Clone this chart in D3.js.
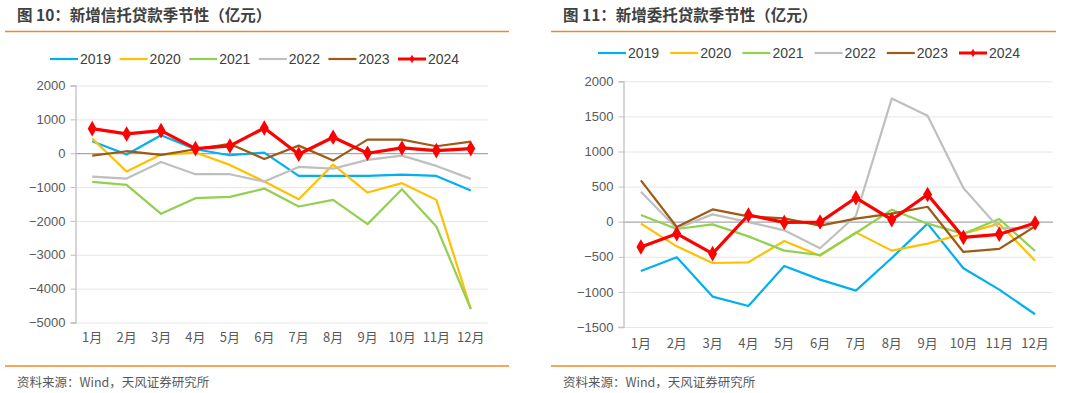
<!DOCTYPE html>
<html>
<head>
<meta charset="utf-8">
<script src="https://cdn.jsdelivr.net/npm/d3@7"></script>
<style>
  body { margin: 0; background: #fff; }
  svg text { font-family: "Noto Sans CJK SC", "Noto Sans", sans-serif; }
</style>
</head>
<body>
<div id="chart"></div>
<script>
// categories
var months = ["1月","2月","3月","4月","5月","6月","7月","8月","9月","10月","11月","12月"];
var years = ["2019","2020","2021","2022","2023","2024"];
var colors = ["#00b0f0","#ffc000","#92d050","#bfbfbf","#9e5a16","#ff0000"];

// 图10 新增信托贷款 (亿元)
var trust2019 = [354, -40, 531, 118, -60, 20, -670, -670, -670, -630, -670, -1100];
var trust2020 = [431, -542, -40, 20, -345, -837, -1357, -336, -1162, -885, -1378, -4600];
var trust2021 = [-847, -935, -1791, -1327, -1289, -1044, -1575, -1378, -2095, -1062, -2165, -4600];
var trust2022 = [-690, -749, -257, -620, -620, -837, -404, -454, -198, -71, -375, -758];
var trust2023 = [-71, 59, -50, 118, 274, -168, 224, -218, 401, 401, 206, 342];
var trust2024 = [726, 570, 667, 136, 215, 746, -30, 472, 0, 156, 77, 136];
var trustTicks = [2000, 1000, 0, -1000, -2000, -3000, -4000, -5000];

// 图11 新增委托贷款 (亿元)
var entrust2019 = [-701, -507, -1067, -1200, -631, -825, -982, -517, -28, -664, -967, -1318];
var entrust2020 = [-28, -351, -588, -578, -275, -484, -152, -412, -313, -171, -28, -555];
var entrust2021 = [95, -104, -38, -209, -412, -474, -161, 171, -28, -171, 38, -417];
var entrust2022 = [427, -95, 104, -5, -123, -379, 85, 1754, 1508, 479, -95, -85];
var entrust2023 = [588, -75, 175, 76, 47, -57, 43, 114, 213, -431, -388, -67];
var entrust2024 = [-360, -171, -455, 95, -10, -5, 341, 28, 388, -223, -180, -19];
var entrustTicks = [2000, 1500, 1000, 500, 0, -500, -1000, -1500];

var svg = d3.select("#chart").append("svg")
    .attr("width", 1080)
    .attr("height", 393)
    .style("background", "#fff");

function drawPanel(opt) {
    var g = svg.append("g");

    // title + orange rules
    g.append("text")
        .attr("x", opt.titleX).attr("y", 21)
        .attr("font-size", 15.5).attr("font-weight", "bold")
        .attr("fill", "#404040")
        .text(opt.title);
    g.append("line")
        .attr("x1", opt.ruleX0).attr("x2", opt.ruleX1)
        .attr("y1", 31.5).attr("y2", 31.5)
        .attr("stroke", "#f08a24").attr("stroke-width", 1.5);
    g.append("line")
        .attr("x1", opt.ruleX0).attr("x2", opt.ruleX1)
        .attr("y1", 366).attr("y2", 366)
        .attr("stroke", "#f08a24").attr("stroke-width", 1.5);
    g.append("text")
        .attr("x", opt.titleX).attr("y", 387)
        .attr("font-size", 12.5).attr("fill", "#595959")
        .text("资料来源：Wind，天风证券研究所");

    var x = d3.scaleBand().domain(months).range([opt.left, opt.right]);
    var y = d3.scaleLinear().domain(opt.domain).range([opt.bottom, opt.top]);

    // gridlines
    g.selectAll(".grid").data(opt.ticks).enter().append("line")
        .attr("x1", opt.left).attr("x2", opt.right)
        .attr("y1", function(d) { return y(d) + 0.5; })
        .attr("y2", function(d) { return y(d) + 0.5; })
        .attr("stroke", function(d) { return d === 0 ? "#a6a6a6" : "#e6e6e6"; })
        .attr("stroke-width", function(d) { return d === 0 ? 1.3 : 1; });

    // y axis
    var yAxis = d3.axisLeft(y).tickValues(opt.ticks).tickSize(5).tickPadding(5)
        .tickFormat(function(d) { return d < 0 ? "\u2212" + Math.abs(d) : d; });
    var ya = g.append("g").attr("transform", "translate(" + (opt.left + 0.5) + ",0)").call(yAxis);
    ya.select(".domain").attr("stroke", "#bfbfbf").attr("stroke-width", 1.3);
    ya.selectAll(".tick line").attr("stroke", "#bfbfbf");
    ya.selectAll("text").attr("fill", "#595959").attr("font-size", 13)
        .style("font-family", "'Liberation Sans', Arial, sans-serif");

    // x labels
    var xAxis = d3.axisBottom(x).tickSize(0).tickPadding(opt.xPad);
    var xa = g.append("g").attr("transform", "translate(0," + opt.bottom + ")").call(xAxis);
    xa.select(".domain").remove();
    xa.selectAll("text").attr("fill", "#595959").attr("font-size", 13);

    // legend
    var leg = g.selectAll(".leg").data(years).enter().append("g")
        .attr("transform", function(d, i) { return "translate(" + (opt.legX + i * opt.legStep) + "," + opt.legY + ")"; });
    leg.append("line")
        .attr("x1", 0).attr("x2", 28).attr("y1", 0).attr("y2", 0)
        .attr("stroke", function(d, i) { return colors[i]; })
        .attr("stroke-width", function(d, i) { return i === 5 ? 3 : 2.2; });
    leg.filter(function(d, i) { return i === 5; }).append("path")
        .attr("d", d3.symbol(d3.symbolDiamond, 20))
        .attr("transform", "translate(14,0)")
        .attr("fill", colors[5]);
    leg.append("text")
        .attr("x", 30).attr("y", 5)
        .attr("font-size", 14).attr("fill", "#404040")
        .style("font-family", "'Liberation Sans', Arial, sans-serif")
        .text(function(d) { return d; });

    // lines
    var line = d3.line()
        .x(function(d, i) { return x(months[i]) + x.bandwidth() / 2; })
        .y(function(d) { return y(d); });

    opt.series.forEach(function(s, k) {
        g.append("path")
            .datum(s)
            .attr("d", line)
            .attr("fill", "none")
            .attr("stroke", colors[k])
            .attr("stroke-width", k === 5 ? 3.2 : 2.2)
            .attr("stroke-linejoin", "round");
    });

    // 2024 markers
    g.selectAll(".mk").data(opt.series[5]).enter().append("path")
        .attr("d", d3.symbol(d3.symbolDiamond, 70))
        .attr("transform", function(d, i) {
            return "translate(" + (x(months[i]) + x.bandwidth() / 2) + "," + y(d) + ")";
        })
        .attr("fill", colors[5]);
}

drawPanel({
    title: "图 10：新增信托贷款季节性（亿元）",
    titleX: 17, ruleX0: 5, ruleX1: 509,
    left: 75, right: 488, top: 85.5, bottom: 322.5,
    domain: [-5000, 2000], ticks: trustTicks, xPad: 10,
    legX: 50, legY: 59, legStep: 69.6,
    series: [trust2019, trust2020, trust2021, trust2022, trust2023, trust2024]
});

drawPanel({
    title: "图 11：新增委托贷款季节性（亿元）",
    titleX: 563, ruleX0: 551, ruleX1: 1056,
    left: 623, right: 1053, top: 81.3, bottom: 327,
    domain: [-1500, 2000], ticks: entrustTicks, xPad: 12,
    legX: 598, legY: 53, legStep: 72.2,
    series: [entrust2019, entrust2020, entrust2021, entrust2022, entrust2023, entrust2024]
});
</script>
</body>
</html>
